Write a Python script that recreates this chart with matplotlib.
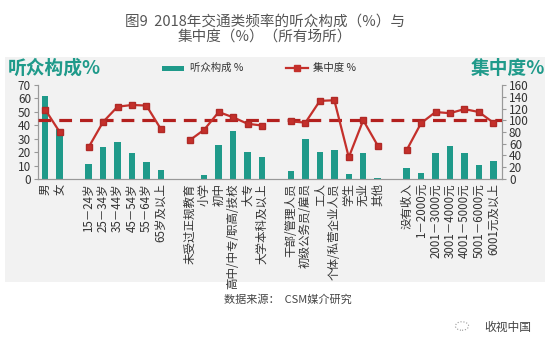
import numpy as np
import matplotlib
matplotlib.use('Agg')
import matplotlib.pyplot as plt
from matplotlib.patches import Rectangle, Circle
from matplotlib.lines import Line2D

plt.rcParams['font.family'] = ['Noto Sans CJK SC', 'DejaVu Sans']

# categories, grouped
gender = ['男', '女']
age = ['15－24岁', '25－34岁', '35－44岁', '45－54岁', '55－64岁', '65岁及以上']
edu = ['未受过正规教育', '小学', '初中', '高中/中专/职高/技校', '大专', '大学本科及以上']
job = ['干部/管理人员', '初级公务员/雇员', '工人', '个体/私营企业人员', '学生', '无业', '其他']
income = ['没有收入', '1－2000元', '2001－3000元', '3001－4000元', '4001－5000元',
          '5001－6000元', '6001元及以上']

# 听众构成 % (left axis)
share_gender = [62, 37]
share_age = [11, 23.5, 27.5, 19.5, 13, 7]
share_edu = [0.3, 3, 25, 36, 20, 16.5]
share_job = [5.7, 29.5, 20, 21.3, 4, 19, 0.8]
share_income = [8, 4.7, 19.6, 24.8, 19, 10.6, 13.6]

# 集中度 % (right axis)
conc_gender = [118, 80]
conc_age = [54, 97, 123, 126, 125, 85]
conc_edu = [66, 84, 114, 105, 94, 91]
conc_job = [98, 96, 133, 134, 37, 100, 57]
conc_income = [49, 95, 114, 112, 119, 114, 96]

groups = [gender, age, edu, job, income]
shares = [share_gender, share_age, share_edu, share_job, share_income]
concs = [conc_gender, conc_age, conc_edu, conc_job, conc_income]

labels, share, conc = [], [], []
for i, (g, s, c) in enumerate(zip(groups, shares, concs)):
    if i > 0:
        labels.append('')
        share.append(np.nan)
        conc.append(np.nan)
    labels += g
    share += s
    conc += c
x = np.arange(len(labels))
share = np.array(share, dtype=float)
conc = np.array(conc, dtype=float)

teal = '#1f9a8a'
red = '#c4302b'
grey_txt = '#333333'

fig = plt.figure(figsize=(5.5, 3.53), dpi=100)
fig.patches.append(Rectangle((5 / 550, 1 - 282 / 353), 540 / 550, 225 / 353,
                             transform=fig.transFigure, facecolor='#f2f2f2',
                             edgecolor='none', zorder=-5))

ax = fig.add_axes([38 / 550, 1 - 179 / 353, 464 / 550, 94 / 353])
ax.set_facecolor('none')
ax.bar(x, share, width=0.45, color=teal, zorder=2)
ax.set_ylim(0, 70)
ax.set_yticks(range(0, 71, 10))
ax.set_xlim(-0.5, len(labels) - 0.4)
ax.set_xticks(x)
ax.set_xticklabels(labels, rotation=90, fontsize=8.3, color=grey_txt)
ax.tick_params(axis='x', length=0, pad=3)

ax2 = ax.twinx()
ax2.set_ylim(0, 160)
ax2.set_yticks(range(0, 161, 20))
ax2.axhline(100, color='#b3201e', lw=2.3, dashes=(4, 2.5), zorder=3)
ax2.plot(x, conc, color=red, lw=1.6, marker='s', markersize=5,
         markerfacecolor=red, markeredgecolor='#b02a26', zorder=4)

for a in (ax, ax2):
    a.spines['top'].set_visible(False)
    for s in ('left', 'right', 'bottom'):
        a.spines[s].set_color('#999999')
        a.spines[s].set_linewidth(0.8)
    a.tick_params(axis='y', direction='out', length=3, width=0.8, color='#999999',
                  labelsize=8.5, labelcolor=grey_txt, pad=2)

# titles
fig.text(0.482, 1 - 29 / 353, '图9  2018年交通类频率的听众构成（%）与\n集中度（%）（所有场所）',
         ha='center', va='center', fontsize=10.5, color='#555555', linespacing=1.15)
fig.text(8 / 550, 1 - 68 / 353, '听众构成%', ha='left', va='center', fontsize=13.5,
         fontweight='bold', color=teal)
fig.text(545 / 550, 1 - 68 / 353, '集中度%', ha='right', va='center', fontsize=13.5,
         fontweight='bold', color=teal)

# legend
fig.patches.append(Rectangle((162 / 550, 1 - 71 / 353), 22 / 550, 5 / 353,
                             transform=fig.transFigure, facecolor=teal, edgecolor='none'))
fig.text(190 / 550, 1 - 68 / 353, '听众构成 %', ha='left', va='center', fontsize=7.5, color=grey_txt)
fig.lines.append(Line2D([286 / 550, 308 / 550], [1 - 68 / 353, 1 - 68 / 353],
                        transform=fig.transFigure, color=red, lw=1.6))
fig.lines.append(Line2D([297 / 550], [1 - 68 / 353], transform=fig.transFigure,
                        color=red, marker='s', markersize=5))
fig.text(313 / 550, 1 - 68 / 353, '集中度 %', ha='left', va='center', fontsize=7.5, color=grey_txt)

fig.text(288 / 550, 1 - 300 / 353, '数据来源：  CSM媒介研究', ha='center', va='center',
         fontsize=8, color='#444444')
fig.text(508 / 550, 1 - 327 / 353, '收视中国', ha='center', va='center',
         fontsize=8.5, color='#444444')
fig.patches.append(Circle((462 / 550, 1 - 326 / 353), 0.012,
                          transform=fig.transFigure, fill=False,
                          edgecolor='#999999', ls=':', lw=0.8))

fig.savefig('out.png', dpi=100)
